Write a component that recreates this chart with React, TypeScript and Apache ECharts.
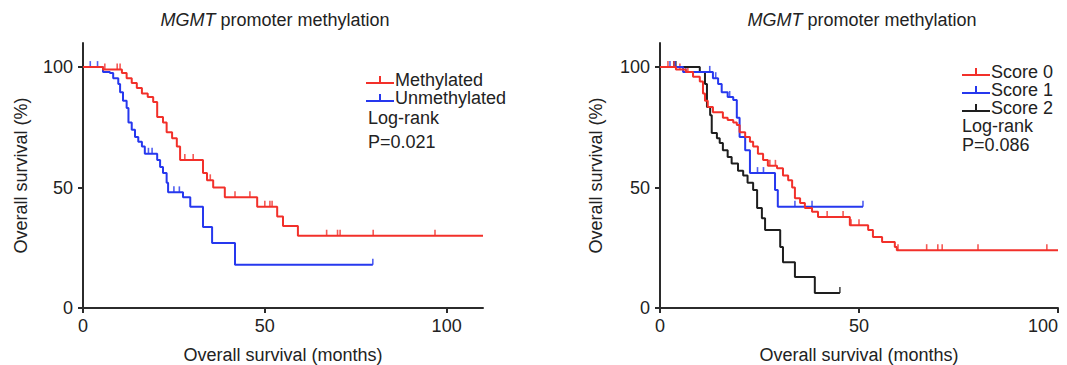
import React, { useEffect, useRef } from "react";
import * as echarts from "echarts";

// ---------- Data ----------
const titleText = "{i|MGMT} promoter methylation";
const xAxisName = "Overall survival (months)";
const yAxisName = "Overall survival (%)";
const yTicks = [0, 50, 100];
const xTicks = [0, 50, 100];

// Left panel: Kaplan-Meier steps [months, survival %]
const methylated: [number, number][] = [
  [0, 100], [5.5, 99], [10.7, 97.5], [12, 95.4], [13.4, 93.4], [14.8, 91.3], [16.2, 89],
  [17.8, 87.6], [19.3, 85.5], [20.4, 79.3], [22, 77], [23, 73], [24.5, 70.5], [25.8, 67],
  [26.7, 61.4], [33, 56], [34.1, 53], [35.8, 50], [39, 46], [47.9, 42], [53.4, 38],
  [55, 34], [59.1, 30], [110, 30],
];
const methylatedCensor = [6, 9.4, 10.2, 28, 30.3, 35, 41.8, 45.9, 50, 51.4, 52, 67, 70, 70.7, 79.8, 96.8];

const unmethylated: [number, number][] = [
  [0, 100], [5.5, 98], [7.4, 97.5], [8.3, 95.4], [9.7, 93], [10.2, 89.6], [11, 86], [12, 83],
  [12.5, 77], [13.4, 74], [14.3, 71], [15.2, 69], [16.2, 67], [17, 64], [20.4, 61.4],
  [21.2, 58.5], [22, 56], [23, 52], [23.4, 48], [27.5, 46], [29.5, 42], [33, 33.6],
  [35.5, 27], [41.8, 18], [79.7, 18],
];
const unmethylatedCensor = [2, 4, 18, 19, 25, 26.5, 79.7];

// Right panel
const score0: [number, number][] = [
  [0, 100], [4, 99], [6.5, 98], [8.3, 96], [10, 94], [10.8, 89], [11.3, 86], [12, 83.4],
  [13.3, 81.3], [15.8, 79], [17, 78], [18.4, 77], [19.3, 76], [20, 73], [21.4, 71],
  [22.6, 69], [23.4, 67], [24.6, 64], [25.9, 61.4], [27.1, 59], [29.4, 58], [30.9, 55],
  [32.2, 53], [33.2, 50], [33.9, 45.6], [35.2, 43.6], [36.4, 41.5], [38.2, 40], [39.7, 37.8],
  [47.7, 34.4], [52.3, 32.4], [53.5, 29.5], [55.8, 27.4], [59, 25.3], [59.5, 24], [100, 24],
];
const score0Censor = [2, 3.5, 5, 7, 27.6, 29, 42, 46, 48, 50, 59.8, 67, 69.8, 70.9, 79.9, 97.2];

const score1: [number, number][] = [
  [0, 100], [5.8, 98], [13.3, 95.4], [14.6, 93], [15.5, 89.6], [17, 87.6], [18.4, 86.3],
  [19.3, 79], [20, 71], [21.4, 65.5], [22.6, 56], [28.9, 49], [29.6, 42], [51, 42],
];
const score1Censor = [2.5, 3.8, 6.5, 12.5, 14, 17.5, 24.5, 26, 33.9, 38.2, 51];

const score2: [number, number][] = [
  [0, 100], [10, 98], [11.3, 93], [11.8, 83.4], [12.6, 80], [13, 72.6], [14.3, 70.5],
  [15, 68.5], [15.8, 65.5], [17, 62.7], [18, 60], [19.6, 57], [20.9, 55], [22, 52],
  [23.4, 49], [24.4, 41.5], [25.6, 37.3], [26.4, 32.4], [30.2, 25.3], [30.9, 19],
  [33.9, 12.9], [38.9, 6.2], [45.2, 6.2],
];
const score2Censor = [3.5, 4, 45.2];

const leftNames = ["Methylated", "Unmethylated"];
const rightNames = ["Score 0", "Score 1", "Score 2"];
const leftP = "P=0.021";
const rightP = "P=0.086";
const logRank = "Log-rank";

// ---------- Styles ----------
const RED = "#f2302a";
const BLUE = "#2638ee";
const BLACK = "#1e1e1e";
const AXIS = "#2b2b2b";
const TEXT = "#222";
const FONT = "Liberation Sans, Arial, sans-serif";
const FS = 18;
const LEGEND_ICON = "path://M0,6H28V8H0Z M13,0H15V7H13Z";

function survAt(curve: [number, number][], t: number): number {
  let s = curve[0][1];
  for (const [x, y] of curve) {
    if (x <= t) s = y;
  }
  return s;
}

function kmSeries(name: string, curve: [number, number][], censor: number[], color: string, idx: number) {
  return [
    {
      name,
      type: "line",
      step: "end",
      xAxisIndex: idx,
      yAxisIndex: idx,
      data: curve,
      showSymbol: false,
      symbol: "none",
      lineStyle: { color, width: 2 },
      itemStyle: { color },
      silent: true,
    },
    {
      name: name + " censored",
      type: "scatter",
      xAxisIndex: idx,
      yAxisIndex: idx,
      data: censor.map((t) => [t, survAt(curve, t)]),
      symbol: "rect",
      symbolSize: [1.6, 6],
      symbolOffset: [0, -3],
      itemStyle: { color },
      silent: true,
    },
  ];
}

function xAxis(idx: number, max: number, alignMax: string) {
  return {
    type: "value",
    gridIndex: idx,
    min: 0,
    max,
    name: xAxisName,
    nameLocation: "middle",
    nameGap: 38,
    nameTextStyle: { fontSize: FS, color: TEXT, fontFamily: FONT },
    axisLine: { show: true, onZero: false, lineStyle: { color: AXIS, width: 2 } },
    axisTick: { show: true, length: 5, lineStyle: { color: AXIS, width: 2 }, customValues: xTicks },
    axisLabel: {
      fontSize: FS,
      color: TEXT,
      fontFamily: FONT,
      margin: 9,
      customValues: xTicks,
      alignMaxLabel: alignMax,
    },
    splitLine: { show: false },
  };
}

function yAxis(idx: number, gap: number) {
  return {
    type: "value",
    gridIndex: idx,
    min: 0,
    max: 110,
    name: yAxisName,
    nameLocation: "middle",
    nameGap: gap,
    nameTextStyle: { fontSize: FS, color: TEXT, fontFamily: FONT },
    axisLine: { show: true, onZero: false, lineStyle: { color: AXIS, width: 2 } },
    axisTick: { show: true, length: 5, lineStyle: { color: AXIS, width: 2 }, customValues: yTicks },
    axisLabel: { fontSize: FS, color: TEXT, fontFamily: FONT, margin: 10, customValues: yTicks },
    splitLine: { show: false },
  };
}

function text(str: string, x: number, y: number, align = "left") {
  return {
    type: "text",
    x,
    y,
    style: {
      text: str,
      fill: TEXT,
      font: `${FS}px ${FONT}`,
      align,
      verticalAlign: "middle",
      rich: { i: { fontStyle: "italic", fontSize: FS, fontFamily: FONT, fill: TEXT } },
    },
  };
}

export default function App() {
  const ref = useRef<HTMLDivElement>(null);
  useEffect(() => {
    if (!ref.current) return;
    const chart = echarts.init(ref.current, null, { renderer: "svg" });
    chart.setOption({
      animation: false,
      backgroundColor: "#fff",
      textStyle: { fontFamily: FONT },
      grid: [
        { left: 83, top: 43, width: 400, height: 265, outerBoundsMode: "none", containLabel: false },
        { left: 660, top: 43, width: 398, height: 265, outerBoundsMode: "none", containLabel: false },
      ],
      xAxis: [xAxis(0, 110, "center"), xAxis(1, 100, "right")],
      yAxis: [yAxis(0, 53), yAxis(1, 55)],
      legend: [
        {
          data: leftNames,
          orient: "vertical",
          left: 366,
          top: 71,
          padding: 0,
          itemGap: 0,
          itemWidth: 28,
          itemHeight: 8,
          icon: LEGEND_ICON,
          selectedMode: false,
          textStyle: { fontSize: FS, color: TEXT, fontFamily: FONT, lineHeight: 17, padding: [0, 0, 0, -4] },
        },
        {
          data: rightNames,
          orient: "vertical",
          left: 962,
          top: 63,
          padding: 0,
          itemGap: 0,
          itemWidth: 28,
          itemHeight: 8,
          icon: LEGEND_ICON,
          selectedMode: false,
          textStyle: { fontSize: FS, color: TEXT, fontFamily: FONT, lineHeight: 16, padding: [0, 0, 0, -4] },
        },
      ],
      graphic: [
        text(titleText, 275, 20, "center"),
        text(titleText, 862, 20, "center"),
        text(logRank, 368, 118),
        text(leftP, 368, 142),
        text(logRank, 962, 126),
        text(rightP, 962, 145),
      ],
      series: [
        ...kmSeries("Unmethylated", unmethylated, unmethylatedCensor, BLUE, 0),
        ...kmSeries("Methylated", methylated, methylatedCensor, RED, 0),
        ...kmSeries("Score 2", score2, score2Censor, BLACK, 1),
        ...kmSeries("Score 1", score1, score1Censor, BLUE, 1),
        ...kmSeries("Score 0", score0, score0Censor, RED, 1),
      ],
    });
    return () => chart.dispose();
  }, []);
  return <div ref={ref} style={{ width: 1067, height: 365, position: "absolute", left: 0, top: 0 }} />;
}
